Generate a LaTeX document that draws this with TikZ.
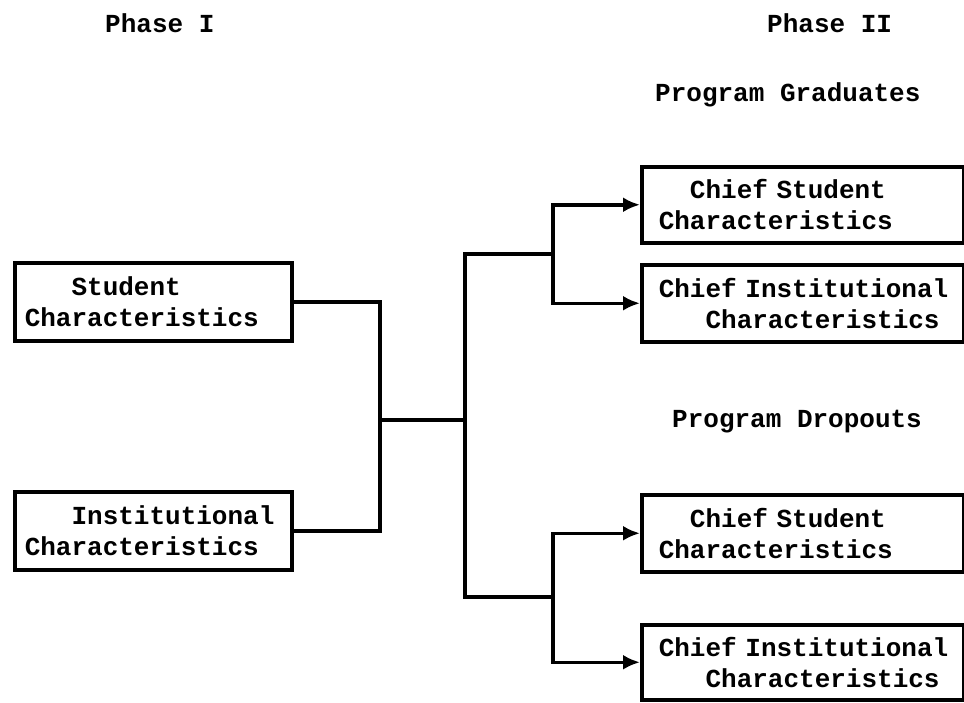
\documentclass[tikz,border=0pt]{standalone}
\usepackage{fontspec}
\setmainfont{Liberation Mono}
\usetikzlibrary{arrows.meta}
\begin{document}
\begin{tikzpicture}[x=1pt,y=-1pt,
  every node/.style={font=\fontsize{26}{31}\selectfont\bfseries},
  lbox/.style={draw,line width=3.5pt,anchor=north west,inner xsep=10pt,inner ysep=0pt,
     text width=257pt,minimum height=78pt,align=left},
  rbox/.style={draw,line width=3.5pt,anchor=north west,inner xsep=17pt,inner ysep=0pt,
     text width=288pt,minimum height=76pt,align=left},
  conn/.style={line width=3.5pt},
  arr/.style={line width=3.5pt,-{Latex[length=17pt,width=15pt]}},
  head/.style={anchor=base west,inner sep=0pt}]
\useasboundingbox (0,0) rectangle (964,702);
\node[head] (p1) at (105,32) {Phase I};
\node[head] (p2) at (767,32) {Phase II};
\node[head] (pg) at (655,101) {Program Graduates};
\node[head] (pd) at (672,427) {Program Dropouts};
\node[lbox] (A) at (13,261) {\mbox{\phantom{XXX}Student}\\\mbox{Characteristics}};
\node[lbox] (B) at (13,490) {\mbox{\phantom{XXX}Institutional}\\\mbox{Characteristics}};
\node[rbox] (C) at (640,165) {\mbox{\phantom{XX}Chief Student}\\\mbox{Characteristics}};
\node[rbox, minimum height=77pt] (D) at (640,263) {\mbox{Chief Institutional}\\\mbox{\phantom{XXX}Characteristics}};
\node[rbox, minimum height=77pt] (E) at (640,493) {\mbox{\phantom{XX}Chief Student}\\\mbox{Characteristics}};
\node[rbox, minimum height=75pt] (F) at (640,623) {\mbox{Chief Institutional}\\\mbox{\phantom{XXX}Characteristics}};
\coordinate (j) at (380,420);
\coordinate (k) at (465,420);
\coordinate (g) at (465,254);
\coordinate (d) at (465,597);
\coordinate (gs) at (553,254);
\coordinate (ds) at (553,597);
\draw[conn] (A.east) -| (j) |- (B.east);
\draw[conn] (j) -- (k);
\draw[conn] (gs) -- (g) -- (d) -- (ds);
\draw[arr] (gs) |- (C.west);
\draw[arr] (gs) |- (D.west);
\draw[arr] (ds) |- (E.west);
\draw[arr] (ds) |- (F.west);
\end{tikzpicture}
\end{document}
